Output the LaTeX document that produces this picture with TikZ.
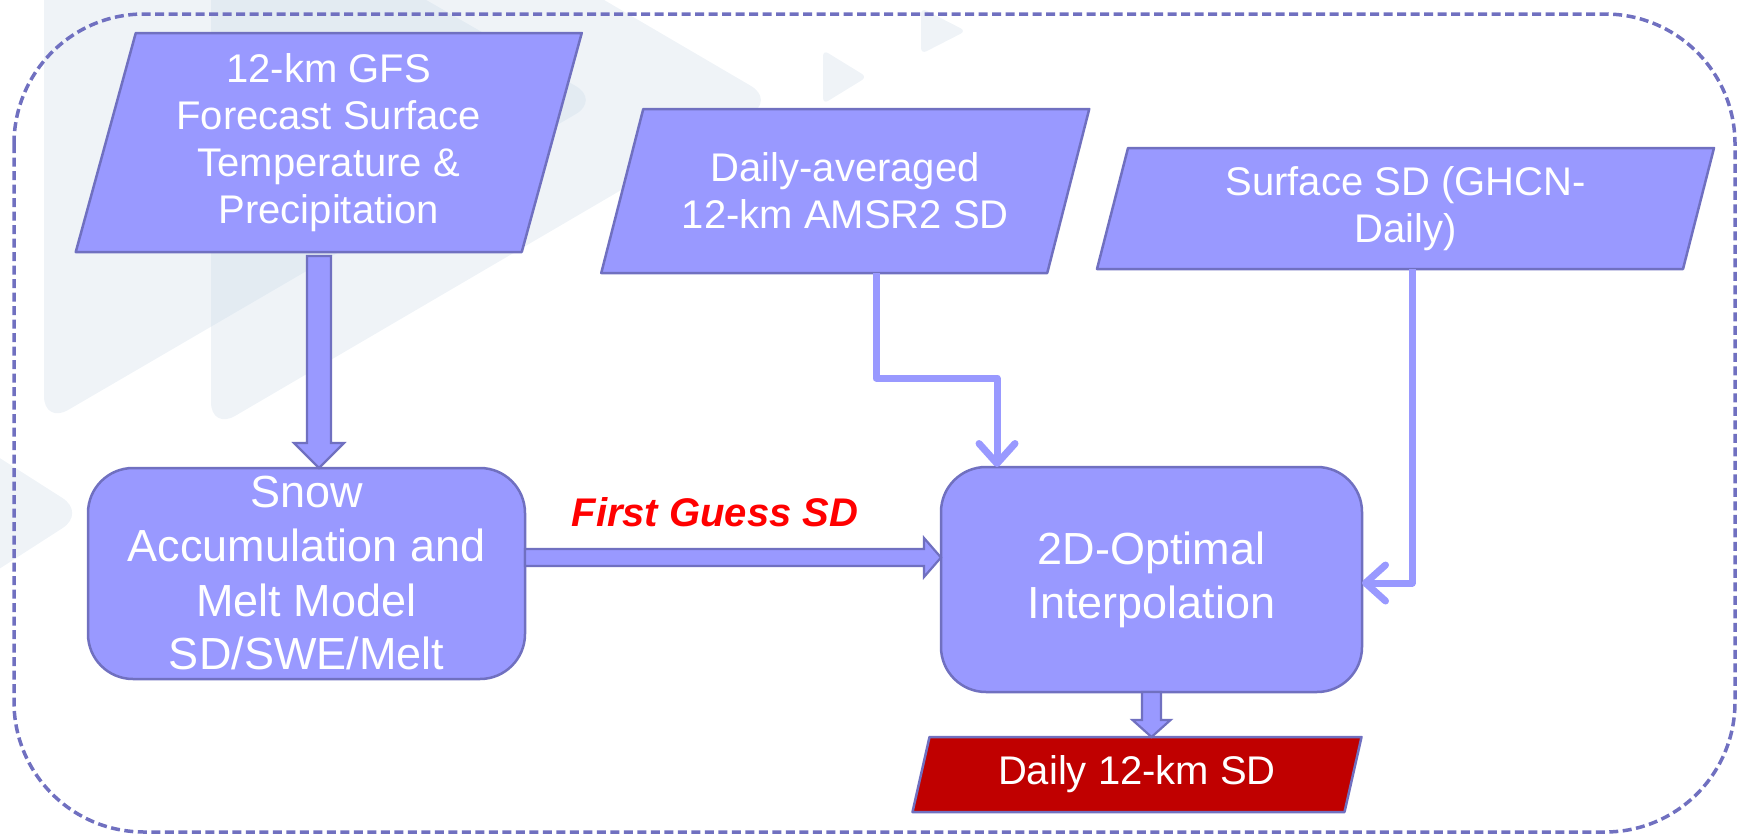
\documentclass[tikz,border=0pt]{standalone}
\usepackage{fontspec}
\setmainfont{Liberation Sans}
\usetikzlibrary{arrows.meta,calc}
\pgfdeclarelayer{wm}
\pgfdeclarelayer{bg}
\pgfsetlayers{wm,bg,main}
\definecolor{boxfill}{HTML}{9999FF}
\definecolor{boxline}{HTML}{7070C0}
\definecolor{redfill}{HTML}{C00000}
\definecolor{wmcol}{HTML}{C9D8E6}
\definecolor{fgred}{HTML}{FF0000}
\begin{document}
\begin{tikzpicture}[x=1pt,y=-1pt,
  every node/.style={inner sep=0pt,outer sep=0pt},
  partext/.style={text=white,align=center,font=\fontsize{40}{47}\selectfont},
  proctext/.style={text=white,align=center,font=\fontsize{45}{54}\selectfont},
  procbox/.style={proctext,draw=boxline,fill=boxfill,line width=2.5pt,rounded corners=45pt},
  paraframe/.style={draw=boxline,fill=boxfill,line width=2.5pt,line join=round},
  redframe/.style={draw=boxline,fill=redfill,line width=2.5pt,line join=round},
  blockarrow/.style={draw=boxline,fill=boxfill,line width=2.2pt,line join=miter},
  thinconn/.style={draw=boxfill,line width=7pt,line join=round,
    -{Straight Barb[length=20pt,width=36pt,round]}},
  wmshape/.style={fill=wmcol,fill opacity=0.3,rounded corners=28pt},
  outerframe/.style={draw=boxline,line width=3.5pt,dash pattern=on 9pt off 4.5pt,rounded corners=130pt}]
\useasboundingbox (0,0) rectangle (1742,835);

% faint background watermark
\begin{pgfonlayer}{wm}
\clip (0,0) rectangle (1742,835);
\fill[wmshape] (44,-220) -- (600,100) -- (44,424) -- cycle;
\fill[wmshape] (211,-230) -- (775,100) -- (211,430) -- cycle;
\fill[wmshape] (-60,420) -- (86,513) -- (-60,607) -- cycle;
\fill[wmshape,rounded corners=6pt] (823,50) -- (867,77) -- (823,104) -- cycle;
\fill[wmshape,rounded corners=6pt] (921,8) -- (966,31) -- (921,54) -- cycle;
\end{pgfonlayer}

% outer dashed frame
\draw[outerframe] (14,14) rectangle (1735,832);

% input nodes (parallelograms)
\node[partext,minimum width=446pt,minimum height=219pt] (gfs) at (328.75,142.5)
  {12-km GFS\\Forecast Surface\\Temperature \&\\Precipitation};
\node[partext,minimum width=446pt,minimum height=164pt] (amsr) at (845.25,191)
  {Daily-averaged\\12-km AMSR2 SD};
\node[partext,minimum width=586pt,minimum height=121pt] (surf) at (1405.5,208.5)
  {Surface SD (GHCN-\\Daily)};
\node[partext,minimum width=432pt,minimum height=75pt] (red) at (1137,774.5)
  {Daily 12-km SD};

\begin{pgfonlayer}{bg}
\draw[paraframe] ([xshift=30pt]gfs.north west) -- ([xshift=30pt]gfs.north east)
  -- ([xshift=-30pt]gfs.south east) -- ([xshift=-30pt]gfs.south west) -- cycle;
\draw[paraframe] ([xshift=21pt]amsr.north west) -- ([xshift=21pt]amsr.north east)
  -- ([xshift=-21pt]amsr.south east) -- ([xshift=-21pt]amsr.south west) -- cycle;
\draw[paraframe] ([xshift=15.5pt]surf.north west) -- ([xshift=15.5pt]surf.north east)
  -- ([xshift=-15.5pt]surf.south east) -- ([xshift=-15.5pt]surf.south west) -- cycle;
\draw[redframe] ([xshift=8.5pt]red.north west) -- ([xshift=8.5pt]red.north east)
  -- ([xshift=-8.5pt]red.south east) -- ([xshift=-8.5pt]red.south west) -- cycle;
\end{pgfonlayer}

% process nodes
\node[procbox,minimum width=437pt,minimum height=211pt] (snow) at (306.5,573.5)
  {Snow\\Accumulation and\\Melt Model\\SD/SWE/Melt};
\node[procbox,minimum width=421pt,minimum height=225pt] (oi) at (1151.5,579.5)
  {2D-Optimal\\Interpolation};

% block arrows
\draw[blockarrow] let \p1=([xshift=-9.75pt,yshift=-4pt]gfs.south), \p2=(snow.north) in
  (\x1-12pt,\y1) -- (\x1+12pt,\y1) -- (\x1+12pt,\y2+25pt) -- (\x1+25pt,\y2+25pt)
  -- (\x1,\y2) -- (\x1-25pt,\y2+25pt) -- (\x1-12pt,\y2+25pt) -- cycle;
\draw[blockarrow] let \p1=([yshift=16pt]snow.east), \p2=(oi.west) in
  (\x1,\y1+8.5pt) -- (\x2-17pt,\y1+8.5pt) -- (\x2-17pt,\y1+19.5pt) -- (\x2,\y1)
  -- (\x2-17pt,\y1-19.5pt) -- (\x2-17pt,\y1-8.5pt) -- (\x1,\y1-8.5pt) -- cycle;
\draw[blockarrow] let \p1=(oi.south), \p2=(red.north) in
  (\x1-9.5pt,\y1) -- (\x1+9.5pt,\y1) -- (\x1+9.5pt,\y2+17pt) -- (\x1+19pt,\y2+17pt)
  -- (\x1,\y2) -- (\x1-19pt,\y2+17pt) -- (\x1-9.5pt,\y2+17pt) -- cycle;

\node[font=\fontsize{40}{48}\selectfont\bfseries\itshape,text=fgred,anchor=base]
  (fglabel) at (715,526) {First Guess SD};

% thin connectors
\coordinate (abend) at (997,378);
\draw[thinconn] ([xshift=30.75pt]amsr.south) |- (abend) -- (abend |- oi.north);
\coordinate (sbend) at (1412,583);
\draw[thinconn] ([xshift=6.5pt]surf.south) -- (sbend) -- (sbend -| oi.east);
\end{tikzpicture}
\end{document}
